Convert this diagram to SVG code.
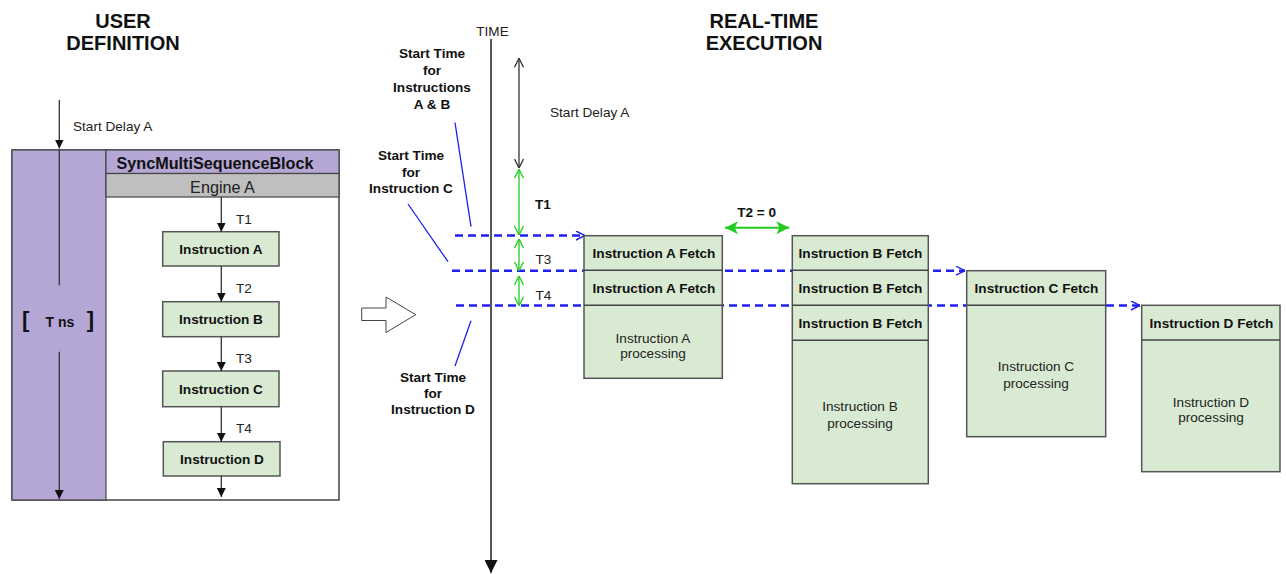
<svg xmlns="http://www.w3.org/2000/svg" width="1286" height="574" viewBox="0 0 1286 574">
<style>
  .title{font-family:"Liberation Sans",Arial,sans-serif;font-weight:bold;font-size:20px;fill:#111;text-anchor:middle}
  .lbl{font-family:"Liberation Sans",Arial,sans-serif;font-size:13.6px;fill:#222}
  .blbl{font-family:"Liberation Sans",Arial,sans-serif;font-size:13.6px;font-weight:bold;fill:#111}
  .mid{text-anchor:middle}
  .box{fill:#d9ead3;stroke:#555;stroke-width:1.5}
  .blk{stroke:#333;stroke-width:1.3;fill:none}
  .dash{stroke:#2020f0;stroke-width:2.5;stroke-dasharray:8 5;fill:none}
  .bl{stroke:#2020f0;stroke-width:1.3;fill:none}
  .gr{stroke:#1fcc1f;stroke-width:1.3;fill:none}
</style>
<defs>
  <marker id="tri" viewBox="0 0 10 10" refX="10" refY="5" markerWidth="9" markerHeight="9" markerUnits="userSpaceOnUse" orient="auto">
    <path d="M0,0 L10,5 L0,10 z" fill="#111"/>
  </marker>
  <marker id="triBig" viewBox="0 0 10 10" refX="10" refY="5" markerWidth="13" markerHeight="13" markerUnits="userSpaceOnUse" orient="auto">
    <path d="M0,0 L10,5 L0,10 z" fill="#111"/>
  </marker>
  <marker id="veeK" viewBox="0 0 10 10" refX="10" refY="5" markerWidth="10" markerHeight="10" markerUnits="userSpaceOnUse" orient="auto-start-reverse">
    <path d="M1,0.5 L10,5 L1,9.5" fill="none" stroke="#333" stroke-width="1.3"/>
  </marker>
  <marker id="veeG" viewBox="0 0 10 10" refX="10" refY="5" markerWidth="10" markerHeight="10" markerUnits="userSpaceOnUse" orient="auto-start-reverse">
    <path d="M1,0.5 L10,5 L1,9.5" fill="none" stroke="#1fcc1f" stroke-width="1.3"/>
  </marker>
  <marker id="veeB" viewBox="0 0 10 10" refX="10" refY="5" markerWidth="10" markerHeight="10" markerUnits="userSpaceOnUse" orient="auto">
    <path d="M1,0.5 L10,5 L1,9.5" fill="none" stroke="#2020f0" stroke-width="1.4" stroke-dasharray="none"/>
  </marker>
  <marker id="stealthG" viewBox="0 0 12 12" refX="12" refY="6" markerWidth="13" markerHeight="13" markerUnits="userSpaceOnUse" orient="auto-start-reverse">
    <path d="M0,0 L12,6 L0,12 L3,6 z" fill="#1fcc1f"/>
  </marker>
</defs>

<rect width="1286" height="574" fill="#fff"/>

<!-- Titles -->
<g id="titles">
  <text class="title" x="123" y="28">USER</text>
  <text class="title" x="123" y="50">DEFINITION</text>
  <text class="title" x="764" y="28">REAL-TIME</text>
  <text class="title" x="764" y="50">EXECUTION</text>
</g>

<!-- Left: user definition block -->
<g id="sync-block">
  <rect x="12" y="150" width="327" height="350" fill="#fff" stroke="#444" stroke-width="1.5"/>
  <rect x="12" y="150" width="94" height="350" fill="#b4a7d6" stroke="#444" stroke-width="1.2"/>
  <rect x="106" y="150" width="233" height="23.5" fill="#b4a7d6" stroke="#444" stroke-width="1.2"/>
  <rect x="106" y="173.5" width="233" height="23.5" fill="#bfbfbf" stroke="#444" stroke-width="1.2"/>
  <text x="116.5" y="169" font-family="Liberation Sans, Arial, sans-serif" font-size="16.2" font-weight="bold" fill="#111">SyncMultiSequenceBlock</text>
  <text x="222.5" y="192.5" font-family="Liberation Sans, Arial, sans-serif" font-size="16.2" fill="#222" text-anchor="middle">Engine A</text>
</g>
<g id="t-ns">
  <text x="22" y="327" font-family="Liberation Sans, Arial, sans-serif" font-size="22" font-weight="bold" fill="#111">[</text>
  <text x="94" y="327" font-family="Liberation Sans, Arial, sans-serif" font-size="22" font-weight="bold" fill="#111" text-anchor="end">]</text>
  <text x="60" y="326.5" font-family="Liberation Sans, Arial, sans-serif" font-size="14" font-weight="bold" fill="#111" text-anchor="middle">T ns</text>
</g>

<g id="def-instr-a"><rect class="box" x="162.7" y="231.7" width="116.3" height="34.3"/><text class="blbl mid" x="221" y="253.8">Instruction A</text></g>
<g id="def-instr-b"><rect class="box" x="162.7" y="301.7" width="116.3" height="35"/><text class="blbl mid" x="221" y="324">Instruction  B</text></g>
<g id="def-instr-c"><rect class="box" x="162.7" y="371" width="116.3" height="35.7"/><text class="blbl mid" x="221" y="393.5">Instruction C</text></g>
<g id="def-instr-d"><rect class="box" x="163.3" y="441.7" width="116.7" height="34.3"/><text class="blbl mid" x="222" y="463.5">Instruction D</text></g>

<!-- Transition arrow -->
<g id="transition-arrow">
  <polygon points="361.7,308 386,308 386,297 415.7,314.7 386,332.5 386,320.5 361.7,320.5" fill="#fff" stroke="#444" stroke-width="1"/>
</g>

<!-- Connectors -->
<g id="connectors">
  <line class="blk" x1="59.3" y1="100" x2="59.3" y2="148.5" marker-end="url(#tri)"/>
  <line class="blk" x1="59.3" y1="150" x2="59.3" y2="285.3"/>
  <line class="blk" x1="59.3" y1="351.7" x2="59.3" y2="499" marker-end="url(#tri)"/>
  <line class="blk" x1="221.3" y1="197" x2="221.3" y2="231.7" marker-end="url(#tri)"/>
  <line class="blk" x1="221.3" y1="266" x2="221.3" y2="301.7" marker-end="url(#tri)"/>
  <line class="blk" x1="221.3" y1="336.7" x2="221.3" y2="371" marker-end="url(#tri)"/>
  <line class="blk" x1="221.3" y1="406.7" x2="221.3" y2="441.7" marker-end="url(#tri)"/>
  <line class="blk" x1="221.3" y1="476" x2="221.3" y2="497" marker-end="url(#tri)"/>

  <line x1="491" y1="39" x2="491" y2="573" stroke="#555" stroke-width="2" marker-end="url(#triBig)"/>

  <line class="dash" x1="455" y1="235.5" x2="585" y2="235.5" marker-end="url(#veeB)"/>
  <line class="dash" x1="452" y1="270.7" x2="965" y2="270.7" marker-end="url(#veeB)"/>
  <line class="dash" x1="456" y1="305.5" x2="1140" y2="305.5" marker-end="url(#veeB)"/>

  <line class="bl" x1="455" y1="122.7" x2="471" y2="226.7"/>
  <line class="bl" x1="408" y1="204" x2="448" y2="261.7"/>
  <line class="bl" x1="471" y1="320.7" x2="455" y2="366"/>

  <line class="blk" x1="519" y1="58.3" x2="519" y2="168" marker-start="url(#veeK)" marker-end="url(#veeK)"/>
  <line class="gr" x1="519" y1="169.3" x2="519" y2="235" marker-start="url(#veeG)" marker-end="url(#veeG)"/>
  <line class="gr" x1="519" y1="239" x2="519" y2="270.7" marker-start="url(#veeG)" marker-end="url(#veeG)"/>
  <line class="gr" x1="519" y1="276" x2="519" y2="305.7" marker-start="url(#veeG)" marker-end="url(#veeG)"/>
  <line x1="725" y1="227.7" x2="789.3" y2="227.7" stroke="#1fcc1f" stroke-width="2" marker-start="url(#stealthG)" marker-end="url(#stealthG)"/>
</g>

<!-- Labels -->
<g id="labels">
  <text class="lbl" x="73" y="131">Start Delay A</text>
  <text class="lbl" x="236" y="224">T1</text>
  <text class="lbl" x="236" y="293">T2</text>
  <text class="lbl" x="236" y="363">T3</text>
  <text class="lbl" x="236" y="433">T4</text>
  <text class="lbl mid" x="492.5" y="35.5">TIME</text>
  <text class="lbl" x="550" y="116.5">Start Delay A</text>
  <text class="blbl" x="535" y="209">T1</text>
  <text class="lbl" x="535.5" y="264">T3</text>
  <text class="lbl" x="535.5" y="300">T4</text>
  <text class="blbl mid" x="756.7" y="217">T2 = 0</text>
  <g class="blbl mid">
    <text x="432" y="57.5">Start Time</text>
    <text x="432" y="75">for</text>
    <text x="432" y="91.5">Instructions</text>
    <text x="432" y="109">A &amp; B</text>
    <text x="411" y="160">Start Time</text>
    <text x="411" y="176.5">for</text>
    <text x="411" y="193">Instruction C</text>
    <text x="433" y="381.5">Start Time</text>
    <text x="433" y="397.5">for</text>
    <text x="433" y="414">Instruction D</text>
  </g>
</g>

<!-- Real-time execution boxes -->
<g id="exec-a">
  <rect class="box" x="584" y="235.7" width="138.3" height="142.6"/>
  <line x1="584" y1="270.3" x2="722.3" y2="270.3" stroke="#444" stroke-width="1.5"/>
  <line x1="584" y1="305.3" x2="722.3" y2="305.3" stroke="#444" stroke-width="1.5"/>
  <text class="blbl mid" x="654" y="258">Instruction A Fetch</text>
  <text class="blbl mid" x="654" y="293">Instruction A Fetch</text>
  <text class="lbl mid" x="653" y="342.5">Instruction A</text>
  <text class="lbl mid" x="653" y="358">processing</text>
</g>
<g id="exec-b">
  <rect class="box" x="792.3" y="235.7" width="136" height="248"/>
  <line x1="792.3" y1="270.3" x2="928.3" y2="270.3" stroke="#444" stroke-width="1.5"/>
  <line x1="792.3" y1="305.3" x2="928.3" y2="305.3" stroke="#444" stroke-width="1.5"/>
  <line x1="792.3" y1="340.3" x2="928.3" y2="340.3" stroke="#444" stroke-width="1.5"/>
  <text class="blbl mid" x="860.5" y="258">Instruction B Fetch</text>
  <text class="blbl mid" x="860.5" y="293">Instruction B Fetch</text>
  <text class="blbl mid" x="860.5" y="328">Instruction B Fetch</text>
  <text class="lbl mid" x="860" y="411">Instruction B</text>
  <text class="lbl mid" x="860" y="427.5">processing</text>
</g>
<g id="exec-c">
  <rect class="box" x="966.7" y="270.7" width="139" height="166"/>
  <line x1="966.7" y1="305.3" x2="1105.7" y2="305.3" stroke="#444" stroke-width="1.5"/>
  <text class="blbl mid" x="1036.5" y="293">Instruction C Fetch</text>
  <text class="lbl mid" x="1036" y="371">Instruction C</text>
  <text class="lbl mid" x="1036" y="387.5">processing</text>
</g>
<g id="exec-d">
  <rect class="box" x="1141.7" y="305.3" width="138.3" height="166.4"/>
  <line x1="1141.7" y1="340" x2="1280" y2="340" stroke="#444" stroke-width="1.5"/>
  <text class="blbl mid" x="1211.5" y="328">Instruction D Fetch</text>
  <text class="lbl mid" x="1211" y="406.5">Instruction D</text>
  <text class="lbl mid" x="1211" y="421.5">processing</text>
</g>
</svg>
